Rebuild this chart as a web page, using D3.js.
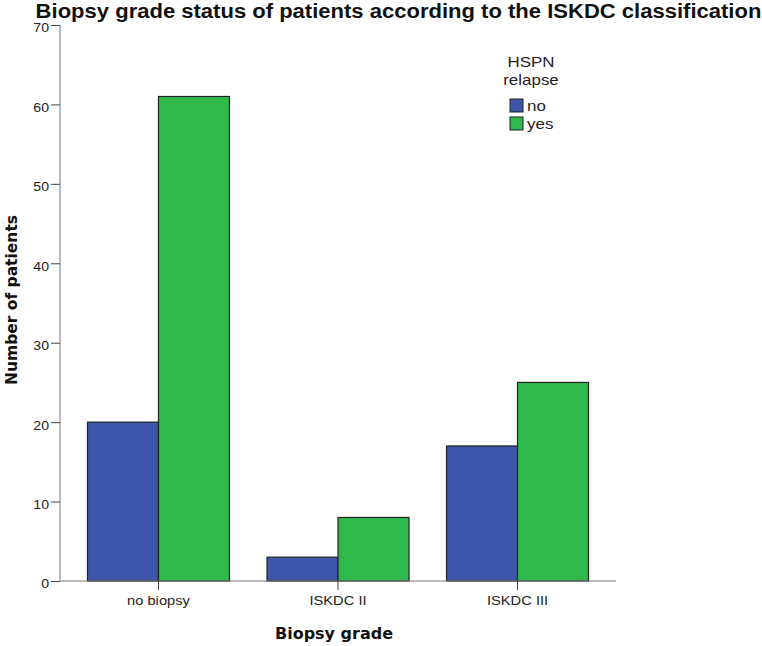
<!DOCTYPE html>
<html><head><meta charset="utf-8">
<script src="https://cdn.jsdelivr.net/npm/d3@7"></script>
<style>body{margin:0;background:#fff}</style>
</head><body>
<svg id="c" width="762" height="646"></svg>
<script>
const categories = ["no biopsy", "ISKDC II", "ISKDC III"];
const seriesNames = ["no", "yes"];
const valuesNo = [20, 3, 17];
const valuesYes = [61, 8, 25];
const yTicks = [0, 10, 20, 30, 40, 50, 60, 70];
const colors = ["#3d56aa", "#2fb84b"];

const SX = 1.13;
const FONT = "Liberation Sans, Arial, sans-serif";
const svg = d3.select("#c");
const x0 = d3.scaleBand().domain(categories).range([60, 616]).paddingInner(0.209).paddingOuter(0.153);
const x1 = d3.scaleBand().domain(seriesNames).range([0, x0.bandwidth()]);
const y = d3.scaleLinear().domain([0, 70]).range([581, 25]);

const data = categories.map((c, i) => ({cat: c, vals: [valuesNo[i], valuesYes[i]]}));

function stretchedText(parent, x, yy, size, txt, anchor) {
  return parent.append("text")
    .attr("transform", `translate(${x},${yy}) scale(${SX},1)`)
    .attr("text-anchor", anchor || "start")
    .attr("font-family", FONT).attr("font-size", size).attr("fill", "#222")
    .text(txt);
}

// bars
const g = svg.append("g");
data.forEach(d => {
  d.vals.forEach((v, j) => {
    g.append("rect")
      .attr("x", x0(d.cat) + x1(seriesNames[j]))
      .attr("y", y(v))
      .attr("width", x1.bandwidth())
      .attr("height", y(0) - y(v))
      .attr("fill", colors[j])
      .attr("stroke", "#222")
      .attr("stroke-width", 1.2);
  });
});

function stretchTicks(sel) {
  sel.selectAll(".tick text").each(function() {
    const tx = +(this.getAttribute("x") || 0);
    d3.select(this).attr("transform", `translate(${tx},0) scale(${SX},1) translate(${-tx},0)`);
  });
}

// y axis
const yAxis = d3.axisLeft(y).tickValues(yTicks).tickSize(9).tickPadding(2);
const ya = svg.append("g").attr("transform", "translate(60,0)").call(yAxis);
ya.select(".domain").attr("stroke", "#777").attr("d", "M0,25V581");
ya.selectAll(".tick line").attr("stroke", "#444");
ya.selectAll("text").attr("font-family", FONT).attr("font-size", 12.5).attr("fill", "#222").attr("dy", "0.55em");
stretchTicks(ya);

// x axis
const xAxis = d3.axisBottom(x0).tickSize(9).tickPadding(6);
const xa = svg.append("g").attr("transform", "translate(0,581)").call(xAxis);
xa.select(".domain").attr("stroke", "#777").attr("d", "M60,0H616");
xa.selectAll(".tick line").attr("stroke", "#444");
xa.selectAll("text").attr("font-family", FONT).attr("font-size", 13).attr("fill", "#222");
stretchTicks(xa);

// title
svg.append("text")
  .attr("transform", `translate(398.5,18) scale(${SX},1)`)
  .attr("text-anchor", "middle")
  .attr("font-family", FONT).attr("font-weight", "bold").attr("font-size", 19.5)
  .attr("fill", "#111")
  .text("Biopsy grade status of patients according to the ISKDC classification");

// axis titles
svg.append("text").attr("transform", "translate(17,300) rotate(-90)").attr("text-anchor", "middle")
  .attr("font-family", "DejaVu Sans, Verdana, sans-serif").attr("font-weight", "bold").attr("font-size", 15.5)
  .attr("fill", "#111").text("Number of patients");
svg.append("text").attr("x", 334).attr("y", 639).attr("text-anchor", "middle")
  .attr("font-family", "DejaVu Sans, Verdana, sans-serif").attr("font-weight", "bold").attr("font-size", 16)
  .attr("fill", "#111").text("Biopsy grade");

// legend
const lg = svg.append("g");
stretchedText(lg, 531, 67, 15, "HSPN", "middle");
stretchedText(lg, 531, 85, 15, "relapse", "middle");
seriesNames.forEach((s, j) => {
  lg.append("rect").attr("x", 510).attr("y", 99 + j * 18).attr("width", 13).attr("height", 13)
    .attr("fill", colors[j]).attr("stroke", "#222").attr("stroke-width", 1);
  stretchedText(lg, 527, 111 + j * 18, 15, s);
});
</script>
</body></html>
